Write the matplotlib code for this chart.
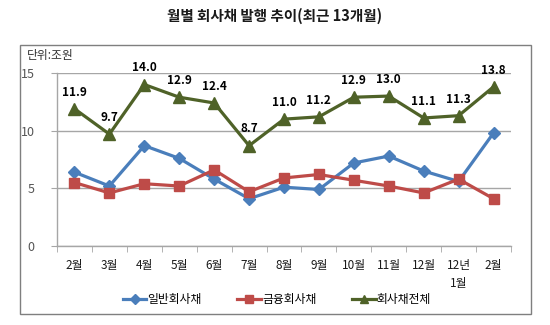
import matplotlib
matplotlib.use("Agg")
import matplotlib.pyplot as plt
from matplotlib.patches import Rectangle
from matplotlib.ticker import FixedLocator

plt.rcParams['font.family'] = ['Noto Sans CJK KR', 'DejaVu Sans']

title = "월별 회사채 발행 추이(최근 13개월)"
unit_label = "단위:조원"
months = ["2월", "3월", "4월", "5월", "6월", "7월", "8월", "9월", "10월", "11월", "12월", "12년\n1월", "2월"]
general = [6.4, 5.2, 8.7, 7.6, 5.8, 4.1, 5.1, 4.9, 7.2, 7.8, 6.5, 5.6, 9.8]
financial = [5.5, 4.6, 5.4, 5.2, 6.6, 4.7, 5.9, 6.2, 5.7, 5.2, 4.6, 5.8, 4.1]
total = [11.9, 9.7, 14.0, 12.9, 12.4, 8.7, 11.0, 11.2, 12.9, 13.0, 11.1, 11.3, 13.8]
series_names = ["일반회사채", "금융회사채", "회사채전체"]
yticks = [0, 5, 10, 15]

W, H = 550, 325
fig = plt.figure(figsize=(W / 100, H / 100), dpi=100)

# outer box
fig.patches.append(Rectangle((20 / W, 1 - 314 / H), 511 / W, 269 / H,
                             transform=fig.transFigure, fill=False,
                             edgecolor='#7f7f7f', linewidth=1.0))

fig.text(275 / W, 1 - 16 / H, title, ha='center', va='center',
         fontsize=10.5, fontweight='bold', color='#1a1a1a')

ax = fig.add_axes([57 / W, 1 - 246 / H, (511 - 57) / W, (246 - 73) / H])
x = list(range(len(months)))

blue = '#4A7EBB'
red = '#BE4B48'
green = '#4F6228'

ax.plot(x, general, color=blue, lw=2.3, marker='D', ms=6, mec=blue, mfc=blue,
        label=series_names[0], zorder=3)
ax.plot(x, financial, color=red, lw=2.3, marker='s', ms=7, mec=red, mfc=red,
        label=series_names[1], zorder=3)
ax.plot(x, total, color=green, lw=2.3, marker='^', ms=8, mec=green, mfc=green,
        label=series_names[2], zorder=3)

for xi, v in zip(x, total):
    ax.annotate(f"{v:.1f}", (xi, v), xytext=(0, 12), textcoords='offset points',
                ha='center', va='center', fontsize=8.5, fontweight='bold',
                color='black', zorder=4)

ax.set_xlim(-0.5, len(months) - 0.5)
ax.set_ylim(0, 15)
ax.set_yticks(yticks)
ax.set_yticklabels([str(t) for t in yticks], color='#555555', fontsize=9)
ax.yaxis.grid(True, color='#a6a6a6', linewidth=1.0)
ax.set_axisbelow(True)
ax.set_xticks(x)
ax.set_xticklabels(months, fontsize=8.5, color='#1a1a1a', linespacing=1.5)
ax.xaxis.set_minor_locator(FixedLocator([i - 0.5 for i in range(len(months) + 1)]))
ax.tick_params(axis='x', which='major', length=0, pad=9)
ax.tick_params(axis='x', which='minor', length=4, color='#a6a6a6', direction='out')
ax.tick_params(axis='y', length=4, color='#a6a6a6', pad=12)
for s in ['top', 'right']:
    ax.spines[s].set_visible(False)
for s in ['left', 'bottom']:
    ax.spines[s].set_color('#a6a6a6')
    ax.spines[s].set_linewidth(1.0)

fig.text(27 / W, 1 - 55 / H, unit_label, ha='left', va='center',
         fontsize=8.5, color='#333333')

handles, labels = ax.get_legend_handles_labels()
leg = fig.legend(handles, labels, loc='center', bbox_to_anchor=(277 / W, 1 - 300 / H),
                 ncol=3, frameon=False, fontsize=8.5, handlelength=2.0,
                 columnspacing=3.0, handletextpad=0.1, markerscale=0.8)

fig.savefig("out.png", dpi=100)
